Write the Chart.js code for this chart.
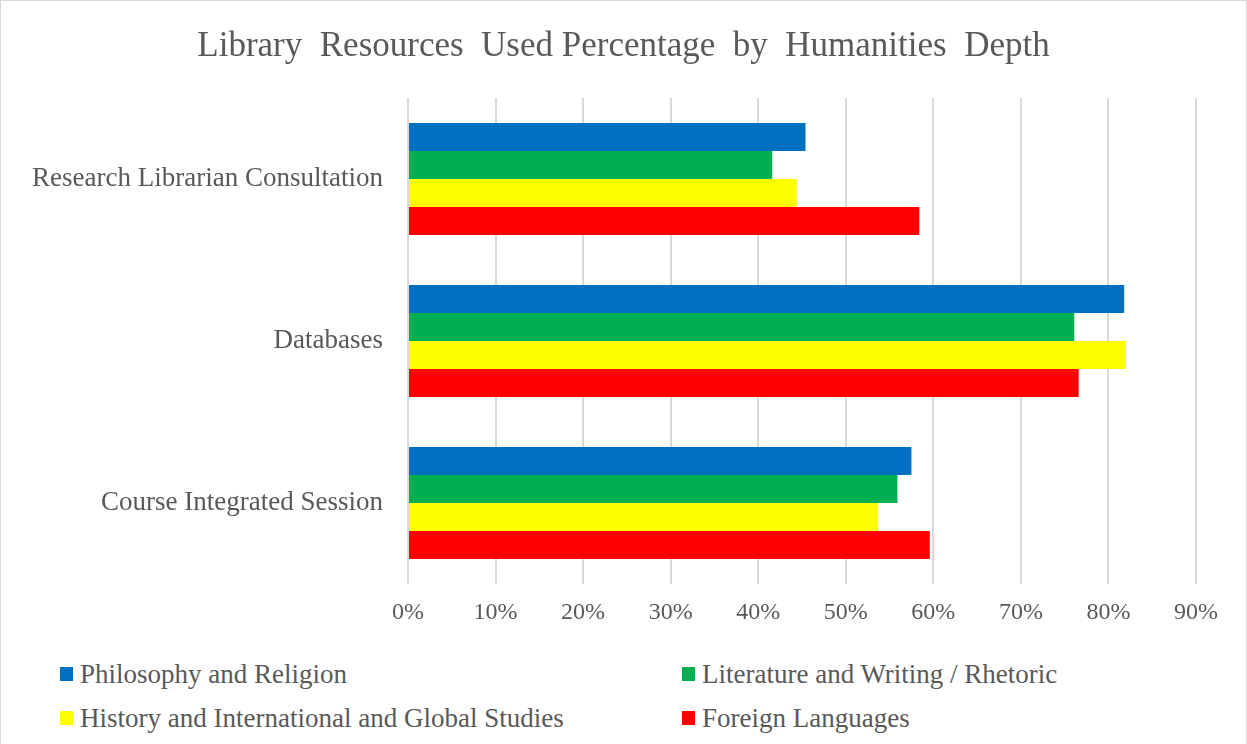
<!DOCTYPE html>
<html>
<head>
<meta charset="utf-8">
<script src="https://cdn.jsdelivr.net/npm/chart.js@4"></script>
<style>
  html, body { margin: 0; padding: 0; background: #fff; }
  #wrap { position: relative; width: 1245px; height: 743px; border: 1px solid #d9d9d9; border-bottom: none; overflow: hidden; }
  #grafico { position: absolute; left: 0; top: 0; }
  #leyenda { position: absolute; left: 0; top: 650px; width: 1245px; font-family: "Liberation Serif", "Times New Roman", serif; font-size: 27px; color: #595959; }
  .item { position: absolute; display: flex; align-items: center; white-space: nowrap; }
  .caja { width: 13px; height: 14px; margin-right: 7px; }
</style>
</head>
<body>
<div id="wrap">
  <canvas id="grafico" width="1245" height="650"></canvas>
  <div id="leyenda"></div>
</div>
<script>
// ============================
// Datos
// ============================
const categorias = ["Research Librarian Consultation", "Databases", "Course Integrated Session"];
const filosofia = [45.4, 81.8, 57.5];
const literatura = [41.6, 76.1, 55.9];
const historia = [44.4, 82.0, 53.7];
const idiomas = [58.4, 76.6, 59.6];
const series = ["Philosophy and Religion", "Literature and Writing / Rhetoric", "History and International and Global Studies", "Foreign Languages"];
const colores = ["#0070C0", "#00B050", "#FFFF00", "#FF0000"];
const ticksX = [0, 10, 20, 30, 40, 50, 60, 70, 80, 90];

const FUENTE = "'Liberation Serif', 'Times New Roman', serif";
const GRIS = "#595959";

const valores = [filosofia, literatura, historia, idiomas];

const grafico = new Chart(document.getElementById("grafico"), {
  type: "bar",
  data: {
    labels: categorias,
    datasets: series.map((nombre, i) => ({
      label: nombre,
      data: valores[i],
      backgroundColor: colores[i],
      borderWidth: 0,
      categoryPercentage: 0.69,
      barPercentage: 1.0
    }))
  },
  options: {
    indexAxis: "y",
    responsive: false,
    animation: false,
    layout: { padding: 0 },
    plugins: {
      legend: { display: false },
      tooltip: { enabled: false },
      title: {
        display: true,
        text: "Library  Resources  Used Percentage  by  Humanities  Depth",
        color: GRIS,
        font: { family: FUENTE, size: 35, weight: "normal" },
        padding: { top: 25, bottom: 30 }
      }
    },
    scales: {
      x: {
        min: 0,
        max: 90,
        afterBuildTicks: (escala) => { escala.ticks = ticksX.map(v => ({ value: v })); },
        afterFit: (escala) => { escala.height = 67; },
        border: { display: false },
        grid: { color: "#d9d9d9", lineWidth: 2, drawTicks: false },
        ticks: {
          color: GRIS,
          padding: 14,
          font: { family: FUENTE, size: 24 },
          callback: (v) => v + "%"
        }
      },
      y: {
        afterFit: (escala) => { escala.width = 407; },
        border: { display: false },
        grid: { display: false, drawTicks: false },
        ticks: {
          color: GRIS,
          padding: 25,
          font: { family: FUENTE, size: 27 }
        }
      },
      // eje vacío a la derecha: deja margen sin descentrar el título
      margen: {
        axis: "y",
        position: "right",
        afterFit: (escala) => { escala.width = 50; },
        border: { display: false },
        grid: { display: false, drawTicks: false },
        ticks: { display: false }
      }
    }
  }
});

// ============================
// Leyenda (2 columnas)
// ============================
const posLeyenda = [
  { left: 59, top: 23 },
  { left: 681, top: 23 },
  { left: 59, top: 67 },
  { left: 681, top: 67 }
];
const leyenda = document.getElementById("leyenda");
grafico.data.datasets.forEach((d, i) => {
  leyenda.innerHTML += `
    <div class="item" style="left:${posLeyenda[i].left}px; top:${posLeyenda[i].top - 16}px; height:32px;">
      <span class="caja" style="background:${d.backgroundColor}"></span>${d.label}
    </div>`;
});
</script>
</body>
</html>
